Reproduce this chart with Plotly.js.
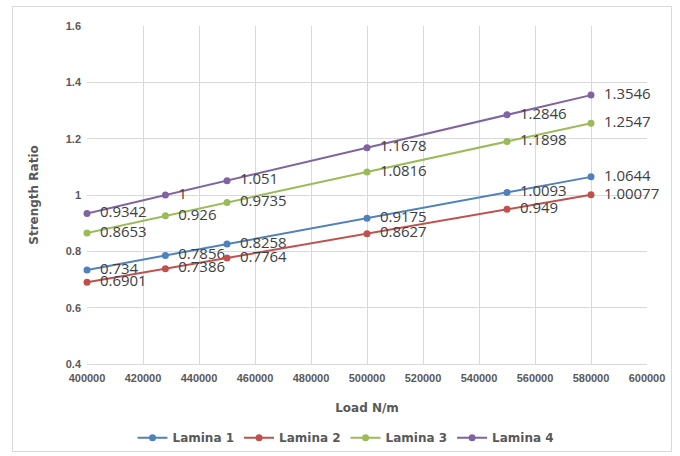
<!DOCTYPE html>
<html><head><meta charset="utf-8">
<script src="https://cdn.plot.ly/plotly-3.0.1.min.js"></script>
<style>
html,body{margin:0;padding:0;background:#fff;}
#frame{position:absolute;left:12px;top:6px;width:660px;height:446px;border:1px solid #d9d9d9;box-sizing:border-box;}
#chart{position:absolute;left:0;top:0;width:680px;height:456px;}
</style></head>
<body>
<div id="frame"></div>
<div id="chart"></div>
<script>
const loads = [400000, 428000, 450000, 500000, 550000, 580000];
const lamina1 = [0.734, 0.7856, 0.8258, 0.9175, 1.0093, 1.0644];
const lamina2 = [0.6901, 0.7386, 0.7764, 0.8627, 0.949, 1.00077];
const lamina3 = [0.8653, 0.926, 0.9735, 1.0816, 1.1898, 1.2547];
const lamina4 = [0.9342, 1, 1.051, 1.1678, 1.2846, 1.3546];
const names = ['Lamina 1', 'Lamina 2', 'Lamina 3', 'Lamina 4'];
const colors = ['#4F81BD', '#C0504D', '#9BBB59', '#8064A2'];
const series = [lamina1, lamina2, lamina3, lamina4];

const traces = series.map((ys, i) => ({
  x: loads, y: ys, name: names[i], type: 'scatter', mode: 'lines+markers+text',
  text: ys.map(v => '\u2002' + String(v)), textposition: 'middle right',
  textfont: {family: 'Open Sans, sans-serif', size: 15, color: '#404040'},
  line: {color: colors[i], width: 2},
  marker: {color: colors[i], size: 7},
  cliponaxis: false
}));

const layout = {
  width: 680, height: 456,
  margin: {l: 87, r: 33, t: 26, b: 92, autoexpand: false},
  paper_bgcolor: 'rgba(0,0,0,0)', plot_bgcolor: '#fff',
  font: {family: 'Liberation Sans, Arial, sans-serif', color: '#595959'},
  showlegend: true,
  legend: {orientation: 'h', x: 0.4625, xanchor: 'center', y: -0.175, yanchor: 'top',
    font: {size: 12, color: '#595959', family: 'DejaVu Sans, sans-serif', weight: 'bold'}, traceorder: 'normal'},
  xaxis: {range: [400000, 600000], dtick: 20000, tick0: 400000, tickformat: 'd',
    showgrid: true, gridcolor: '#d9d9d9', zeroline: false,
    showline: true, linecolor: '#d9d9d9', ticks: '', ticklabelstandoff: 4,
    tickfont: {size: 11, color: '#595959', weight: 'bold'},
    title: {text: '<b>Load N/m</b>', font: {size: 12, color: '#595959', family: 'DejaVu Sans, sans-serif'}, standoff: 20}},
  yaxis: {range: [0.4, 1.6], dtick: 0.2, tick0: 0.4,
    showgrid: true, gridcolor: '#d9d9d9', zeroline: false,
    showline: false, ticks: '', ticklabelstandoff: 5,
    tickfont: {size: 11, color: '#595959', weight: 'bold'},
    title: {text: '<b>Strength Ratio</b>', font: {size: 12, color: '#595959', family: 'DejaVu Sans, sans-serif'}, standoff: 24}}
};
Plotly.newPlot('chart', traces, layout, {displayModeBar: false, staticPlot: true});
</script>
</body></html>
